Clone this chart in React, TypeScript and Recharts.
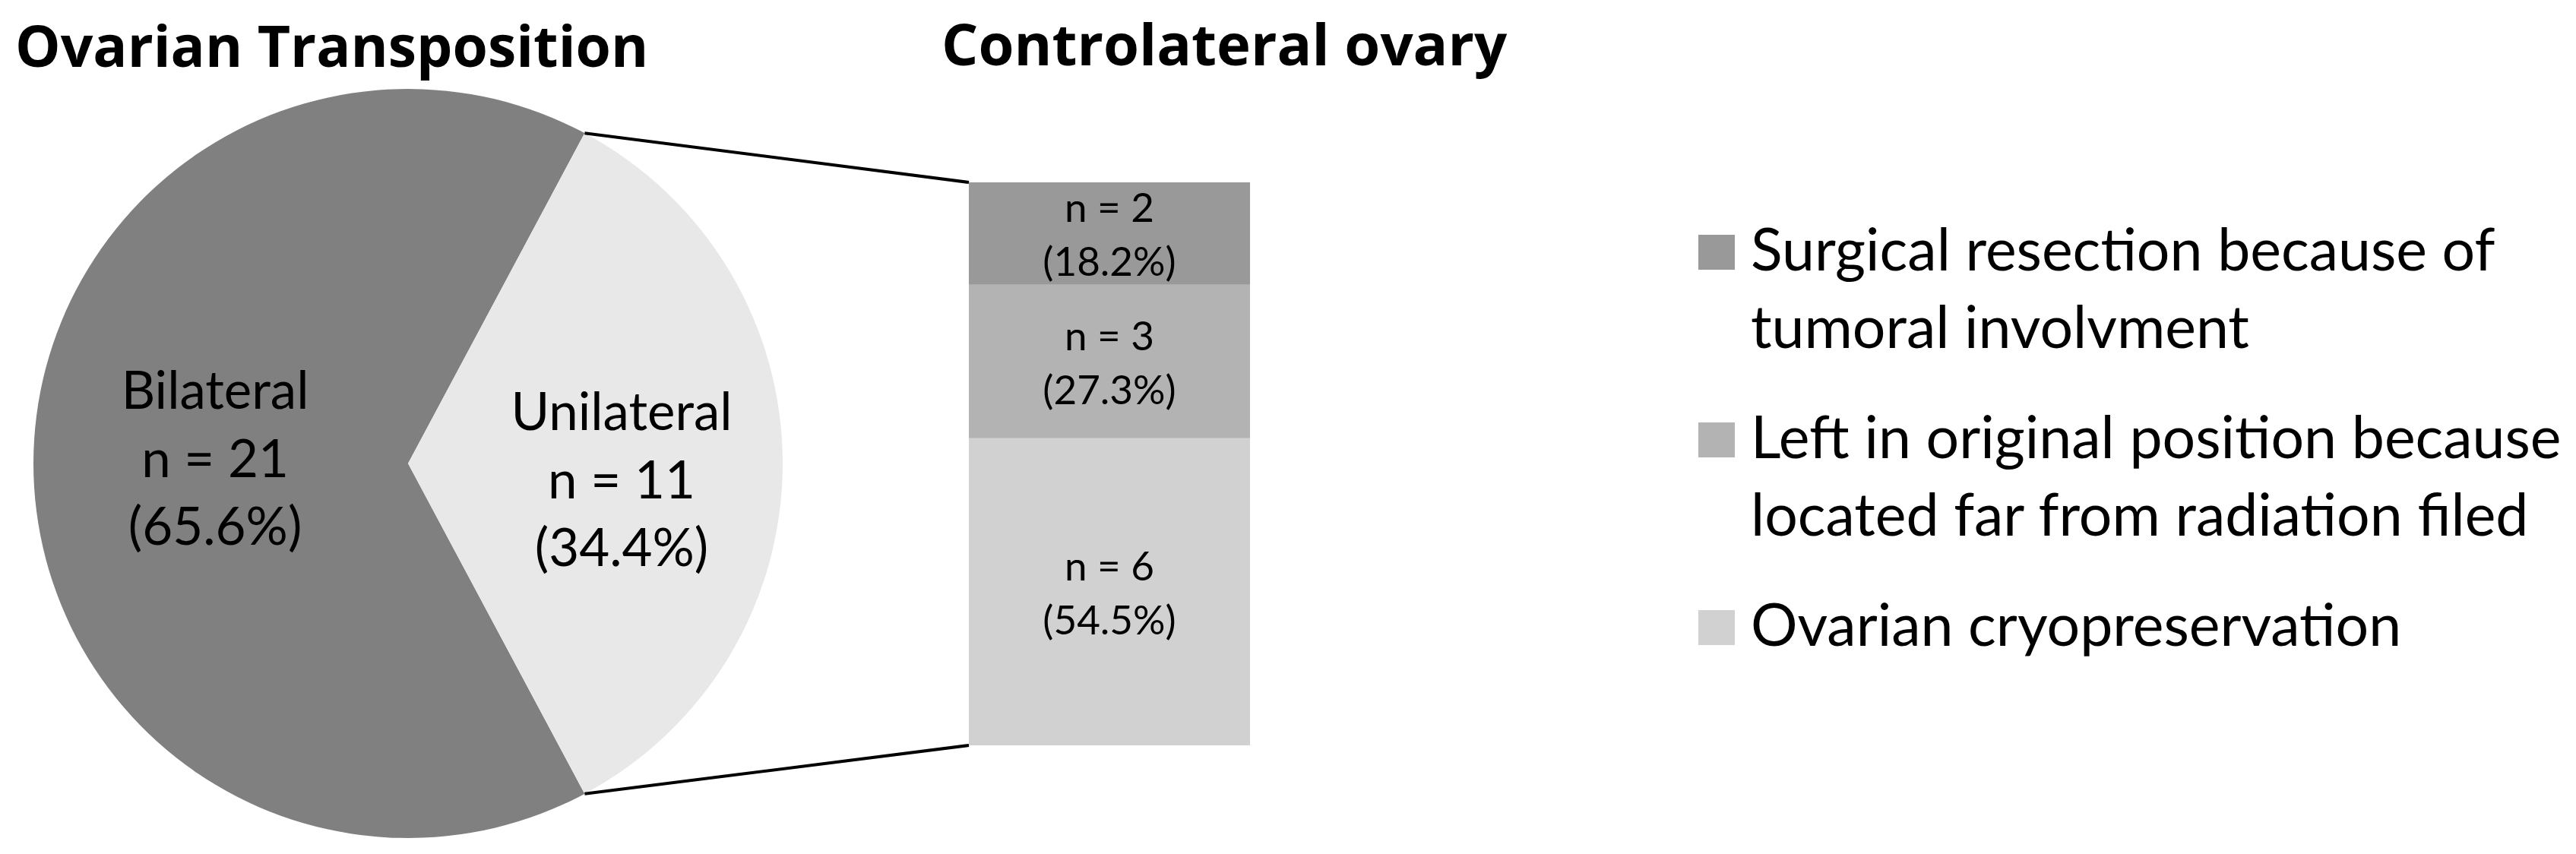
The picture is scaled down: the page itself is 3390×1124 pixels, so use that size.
import React from "react";
import { PieChart, Pie, Cell, BarChart, Bar, XAxis, YAxis, LabelList } from "recharts";

// left pie: ovarian transposition
const transpositionNames = ["Bilateral", "Unilateral"];
const transpositionCounts = [21, 11];
const transpositionColors = ["#808080", "#e8e8e8"];

// right stacked bar: fate of the controlateral ovary (legend order, top to bottom)
const ovaryKeys = ["surgical", "left", "cryo"];
const ovaryNames = [
  "Surgical resection because of tumoral involvment",
  "Left in original position because located far from radiation filed",
  "Ovarian cryopreservation",
];
const ovaryCounts = [2, 3, 6];
const ovaryColors = ["#999999", "#b3b3b3", "#d1d1d1"];

const pieData = transpositionNames.map((name, i) => ({ name, value: transpositionCounts[i] }));
const pieTotal = transpositionCounts.reduce((a, b) => a + b, 0);
const ovaryTotal = ovaryCounts.reduce((a, b) => a + b, 0);
const barRow: Record<string, number | string> = { group: "Controlateral ovary" };
ovaryKeys.forEach((k, i) => (barRow[k] = ovaryCounts[i]));

const W = 3390;
const H = 1124;
const PIE_CX = 537;
const PIE_CY = 610;
const PIE_R = 493;
const BAR_X = 1275;
const BAR_Y = 240;
const BAR_W = 370;
const BAR_H = 741;

// unilateral slice is centred on the right-hand side
const halfAngle = (180 * transpositionCounts[1]) / pieTotal;
const RAD = Math.PI / 180;

const calibri = "Lato, 'Open Sans', sans-serif";

const pct = (v: number, total: number) => `(${((v / total) * 100).toFixed(1)}%)`;

const PieLabel = (props: any) => {
  const { cx, cy, midAngle, outerRadius, index, name, value } = props;
  const dist = outerRadius * (index === 0 ? 0.515 : 0.57);
  const x = cx + dist * Math.cos(-midAngle * RAD);
  const y = cy + dist * Math.sin(-midAngle * RAD) + (index === 0 ? -5 : 23);
  return (
    <text x={x} y={y} textAnchor="middle" fontFamily={calibri} fontSize={69} fill="#000">
      <tspan x={x} dy={-67}>{name}</tspan>
      <tspan x={x} dy={90}>{`n = ${value}`}</tspan>
      <tspan x={x} dy={89}>{pct(value, pieTotal)}</tspan>
    </text>
  );
};

const BarLabel = (props: any) => {
  const { x, y, width, height, value } = props;
  const mx = x + width / 2;
  const my = y + height / 2;
  return (
    <text x={mx} y={my} textAnchor="middle" fontFamily={calibri} fontSize={53} fill="#000">
      <tspan x={mx} dy={-15}>{`n = ${value}`}</tspan>
      <tspan x={mx} dy={71}>{pct(value, ovaryTotal)}</tspan>
    </text>
  );
};

export default function App() {
  const px = PIE_CX + PIE_R * Math.cos(halfAngle * RAD);
  const pyTop = PIE_CY - PIE_R * Math.sin(halfAngle * RAD);
  const pyBot = PIE_CY + PIE_R * Math.sin(halfAngle * RAD);

  return (
    <div style={{ position: "relative", width: W, height: H, background: "#fff", overflow: "hidden" }}>
      <style>{`body{margin:0}`}</style>

      <div style={{ position: "absolute", left: 0, top: 0 }}>
        <PieChart width={1100} height={H} margin={{ top: 0, right: 0, bottom: 0, left: 0 }}>
          <Pie
            data={pieData}
            dataKey="value"
            nameKey="name"
            cx={PIE_CX}
            cy={PIE_CY}
            outerRadius={PIE_R}
            startAngle={halfAngle}
            endAngle={halfAngle + 360}
            stroke="none"
            labelLine={false}
            label={PieLabel}
            isAnimationActive={false}
          >
            {pieData.map((d, i) => (
              <Cell key={d.name} fill={transpositionColors[i]} />
            ))}
          </Pie>
        </PieChart>
      </div>

      <div style={{ position: "absolute", left: BAR_X, top: BAR_Y }}>
        <BarChart
          width={BAR_W}
          height={BAR_H}
          data={[barRow]}
          margin={{ top: 0, right: 0, bottom: 0, left: 0 }}
          barCategoryGap={0}
        >
          <XAxis dataKey="group" hide />
          <YAxis hide domain={[0, ovaryTotal]} />
          {[...ovaryKeys].reverse().map((k) => {
            const i = ovaryKeys.indexOf(k);
            return (
              <Bar key={k} dataKey={k} stackId="a" fill={ovaryColors[i]} isAnimationActive={false}>
                <LabelList dataKey={k} content={BarLabel} />
              </Bar>
            );
          })}
        </BarChart>
      </div>

      <svg width={W} height={H} style={{ position: "absolute", left: 0, top: 0, pointerEvents: "none" }}>
        <line x1={px} y1={pyTop} x2={BAR_X} y2={BAR_Y} stroke="#000" strokeWidth={4} />
        <line x1={px} y1={pyBot} x2={BAR_X} y2={BAR_Y + BAR_H} stroke="#000" strokeWidth={4} />
        <text x={20} y={88} fontFamily="'Open Sans', sans-serif" fontWeight={700} fontSize={75} fill="#000">
          Ovarian Transposition
        </text>
        <text x={1239} y={86} fontFamily="'Open Sans', sans-serif" fontWeight={700} fontSize={76} fill="#000">
          Controlateral ovary
        </text>
      </svg>

      <div
        style={{
          position: "absolute",
          left: 2235,
          top: 275,
          width: 1150,
          fontFamily: calibri,
          fontSize: 77,
          lineHeight: "102px",
          color: "#000",
        }}
      >
        {ovaryNames.map((name, i) => (
          <div key={ovaryKeys[i]} style={{ display: "flex", alignItems: "flex-start", marginBottom: 43 }}>
            <div style={{ width: 48, height: 46, marginTop: 34, background: ovaryColors[i], flexShrink: 0 }} />
            <div style={{ marginLeft: 21, width: 1085 }}>{name}</div>
          </div>
        ))}
      </div>
    </div>
  );
}
